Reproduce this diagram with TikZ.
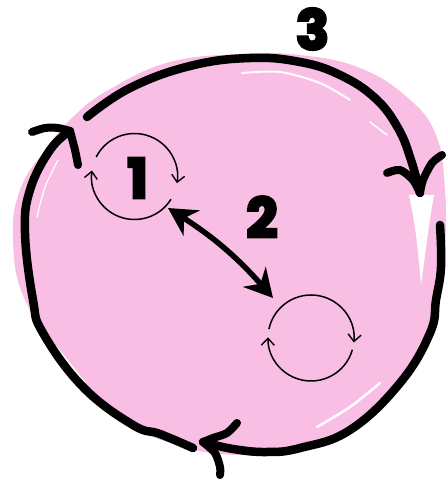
\documentclass[tikz,border=0pt]{standalone}
\usepackage{fontspec}
\usetikzlibrary{arrows.meta}
\newfontfamily\heavy[UprightFeatures={FakeBold=5}, BoldFeatures={FakeBold=5}]{Poppins}
\definecolor{blobpink}{RGB}{248,190,228}
\tikzset{
  ring/.style={line width=8.5pt, line cap=round, line join=round},
  barb/.style={line width=8pt, line cap=round, line join=round},
  loopline/.style={line width=1.5pt, -{Straight Barb[length=7pt,width=13pt,line width=1.4pt]}},
  shine/.style={white, line cap=round},
  numlabel/.style={font=\heavy\bfseries\fontsize{55}{55}\selectfont, inner sep=0pt},
  link/.style={line width=5.5pt, {Stealth[length=28pt,width=30pt,inset=9pt]}-{Stealth[length=28pt,width=30pt,inset=9pt]}}
}
\begin{document}
\begin{tikzpicture}[x=1pt,y=1pt]
\useasboundingbox (0,0) rectangle (446,479);
% pink blob
\fill[blobpink] plot[smooth cycle, tension=0.7] coordinates {
  (13,239) (20,289) (45,329) (75,364) (112,391) (170,417) (240,425) (300,424)
  (360,411) (408,381) (436,344) (445,289) (445,229) (438,179) (418,124)
  (372,65) (310,29) (240,24) (180,33) (120,61) (68,119) (25,179)};
% white highlights
\draw[shine, line width=2pt] plot[smooth] coordinates {(242,406) (280,407) (320,396) (350,379)};
\draw[shine, line width=1.5pt] (370,357) -- (387,344);
\fill[white] (409,284) to[out=-78,in=95] (421,194) to[out=82,in=-100] (434,284) -- cycle;
\draw[shine, line width=2.5pt] plot[smooth] coordinates {(317,52) (350,72) (380,96)};
\draw[shine, line width=1.2pt] plot[smooth] coordinates {(58,319) (45,292) (37,262)};
% outer cycle
\draw[ring] plot[smooth, tension=0.7] coordinates {(87,362) (130,391) (190,413) (250,421) (300,417) (340,404) (375,381) (398,351) (411,319) (420,286)};
\draw[ring] plot[smooth, tension=0.7] coordinates {(440,254) (441,212) (436,179) (430,146) (400,96) (350,49) (300,31) (267,27) (233,30) (203,37)};
\draw[ring] plot[smooth, tension=0.7] coordinates {(193,31) (160,45) (133,54) (83,92) (43,146) (33,179) (25,246) (30,289) (50,329) (70,348)};
% chevron heads
\draw[barb] plot[smooth] coordinates {(32,347) (45,351) (58,351) (70,348)};
\draw[barb] plot[smooth] coordinates {(70,348) (75,329) (78,314)};
\draw[barb] plot[smooth] coordinates {(387,306) (400,309) (413,299) (420,286)};
\draw[barb] plot[smooth] coordinates {(442,324) (432,316) (423,299) (420,286)};
\draw[barb] plot[smooth] coordinates {(237,56) (227,46) (213,41) (203,37)};
\draw[barb] plot[smooth] coordinates {(203,37) (215,26) (220,12) (220,4)};
% small loops
\coordinate (loop1) at (134.5,302.5);
\coordinate (loop2) at (311,141);
\draw[loopline] (loop1) ++(153:43) arc[start angle=153, end angle=-9, radius=43];
\draw[loopline] (loop1) ++(-32:43) arc[start angle=-32, end angle=-188, radius=43];
\draw[loopline] (loop2) ++(168:43) arc[start angle=168, end angle=-6, radius=43];
\draw[loopline] (loop2) ++(-16:43) arc[start angle=-16, end angle=-181, radius=43];
% link arrow
\coordinate (link1) at (168,271);
\coordinate (link2) at (273,181);
\draw[link] (link1) to[bend left=8] (link2);
% labels
\node[numlabel] (n1) at (137.5,301) {1};
\node[numlabel] (n2) at (262,262) {2};
\node[numlabel] (n3) at (312.5,450) {3};
\end{tikzpicture}
\end{document}
